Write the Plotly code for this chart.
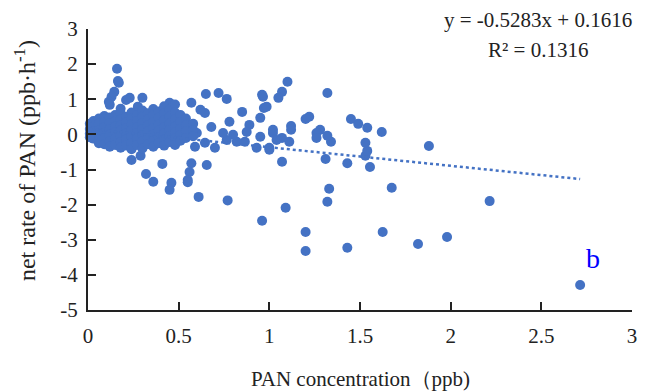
import plotly.graph_objects as go

# Sparse points (PAN concentration, net rate)
sparse_x = [2.714, 2.215, 1.98, 1.82, 1.625, 1.675, 1.88, 1.62, 1.555, 1.53, 1.54, 1.53, 1.54, 1.49, 1.45,
            1.43, 1.43, 1.33, 1.32, 1.31, 1.34, 1.32, 1.28, 1.26, 1.26, 1.32, 1.22, 1.20, 1.20, 1.20,
            1.12, 1.12, 1.11, 1.07, 1.07, 1.09, 1.10, 1.07, 1.05, 1.02, 1.02, 1.04, 1.00, 1.00, 0.97,
            0.985, 0.965, 0.96, 0.95, 0.95, 0.93, 0.96, 0.89, 0.875, 0.865, 0.85, 0.82, 0.80, 0.78, 0.765,
            0.765, 0.77, 0.745, 0.72, 0.70, 0.68, 0.65, 0.645, 0.62, 0.645, 0.655, 0.61, 0.60, 0.59, 0.57,
            0.57, 0.56, 0.55, 0.55, 0.545, 0.46, 0.45, 0.36, 0.41, 0.32, 0.24, 0.29, 0.45, 0.16, 0.165,
            0.17, 0.145, 0.13, 0.115, 0.12, 0.23, 0.21, 0.30, 0.18, 0.275]
sparse_y = [-4.29, -1.90, -2.92, -3.12, -2.78, -1.52, -0.33, 0.07, -0.93, -0.61, -0.47, -0.24, 0.19, 0.30, 0.44,
            -0.82, -3.23, -1.55, -1.92, -0.70, -0.21, -0.04, 0.13, 0.04, -0.10, 1.18, 0.50, 0.44, -2.78, -3.32,
            0.24, 0.13, -0.21, -0.10, -0.78, -2.09, 1.50, 1.21, 1.04, 0.04, 0.13, -0.16, -0.38, -0.44, 0.75,
            0.79, 1.07, 1.13, 0.47, -0.07, -0.38, -2.46, 0.27, 0.07, -0.21, 0.64, -0.21, -0.01, 0.36, 1.01,
            -0.16, -1.88, 0.04, 1.18, -0.38, 0.21, 1.15, 0.61, 0.70, -0.24, -0.87, -1.78, 0.04, -0.35, 0.90,
            -0.82, -1.07, -1.30, -1.36, 0.07, -1.38, -1.58, -1.35, -0.84, -1.13, -0.73, -0.61, 0.90, 1.87, 1.52,
            1.47, 1.21, 1.07, 0.93, 0.84, 1.04, 0.98, 1.04, 0.73, 0.79]

# Dense cluster at low concentration
cluster_x = [0.01, 0.01, 0.01, 0.01,
             0.03, 0.03, 0.03, 0.03, 0.03,
             0.06, 0.06, 0.06, 0.06, 0.06, 0.06,
             0.09, 0.09, 0.09, 0.09, 0.09, 0.09,
             0.12, 0.12, 0.12, 0.12, 0.12, 0.12,
             0.15, 0.15, 0.15, 0.15, 0.15, 0.15,
             0.18, 0.18, 0.18, 0.18, 0.18, 0.18, 0.18,
             0.21, 0.21, 0.21, 0.21, 0.21, 0.21,
             0.24, 0.24, 0.24, 0.24, 0.24, 0.24, 0.24,
             0.27, 0.27, 0.27, 0.27, 0.27, 0.27,
             0.30, 0.30, 0.30, 0.30, 0.30, 0.30, 0.30,
             0.33, 0.33, 0.33, 0.33, 0.33, 0.33,
             0.36, 0.36, 0.36, 0.36, 0.36, 0.36, 0.36,
             0.39, 0.39, 0.39, 0.39, 0.39, 0.39,
             0.42, 0.42, 0.42, 0.42, 0.42, 0.42, 0.42,
             0.45, 0.45, 0.45, 0.45, 0.45, 0.45,
             0.48, 0.48, 0.48, 0.48, 0.48, 0.48, 0.48,
             0.51, 0.51, 0.51, 0.51, 0.51,
             0.54, 0.54, 0.54, 0.54,
             0.58, 0.58, 0.58]
cluster_y = [0.30, 0.15, 0.02, -0.08,
             0.38, 0.22, 0.08, -0.05, -0.12,
             0.45, 0.30, 0.12, 0.00, -0.15, -0.25,
             0.52, 0.35, 0.20, 0.05, -0.10, -0.28,
             0.48, 0.32, 0.15, -0.02, -0.20, -0.35,
             0.55, 0.38, 0.22, 0.06, -0.12, -0.30,
             0.60, 0.42, 0.25, 0.10, -0.05, -0.22, -0.38,
             0.50, 0.33, 0.18, 0.02, -0.15, -0.32,
             0.62, 0.45, 0.28, 0.12, -0.05, -0.25, -0.42,
             0.55, 0.38, 0.20, 0.04, -0.12, -0.30,
             0.68, 0.50, 0.32, 0.15, -0.02, -0.20, -0.40,
             0.60, 0.42, 0.25, 0.08, -0.10, -0.28,
             0.72, 0.55, 0.35, 0.18, 0.00, -0.18, -0.35,
             0.65, 0.48, 0.28, 0.10, -0.08, -0.25,
             0.80, 0.60, 0.40, 0.20, 0.03, -0.15, -0.32,
             0.70, 0.50, 0.30, 0.12, -0.05, -0.22,
             0.85, 0.62, 0.42, 0.22, 0.05, -0.12, -0.30,
             0.55, 0.35, 0.15, -0.02, -0.18,
             0.45, 0.25, 0.08, -0.10,
             0.30, 0.12, -0.05]

# Linear fit reported on the chart
slope = -0.5283
intercept = 0.1616
r_squared = 0.1316

x_ticks = [0, 0.5, 1, 1.5, 2, 2.5, 3]
x_ticktext = ["0", "0.5", "1", "1.5", "2", "2.5", "3"]
y_ticks = [-5, -4, -3, -2, -1, 0, 1, 2, 3]
y_ticktext = ["-5", "-4", "-3", "-2", "-1", "0", "1", "2", "3"]

x_title = "PAN concentration（ppb)"
y_title = "net rate of PAN (ppb·h<sup>-1</sup>)"

x_all = sparse_x + cluster_x
y_all = sparse_y + cluster_y

COLOR = "#4472C4"
FONT = "Liberation Serif"
TXT = "#222222"

fig = go.Figure()
fig.add_trace(go.Scatter(x=x_all, y=y_all, mode="markers",
                         marker=dict(color=COLOR, size=10, line=dict(width=0)),
                         cliponaxis=False, showlegend=False))

tx = [min(x_all), max(x_all)]
ty = [slope * v + intercept for v in tx]
fig.add_trace(go.Scatter(x=tx, y=ty, mode="lines",
                         line=dict(color=COLOR, width=2.5, dash="dot"),
                         showlegend=False))

fig.update_layout(
    width=645, height=392, margin=dict(l=88, r=13, t=29, b=82, autoexpand=False),
    plot_bgcolor="white", paper_bgcolor="white",
    font=dict(family=FONT, size=21, color=TXT),
    xaxis=dict(range=[0, 3], tickmode="array", tickvals=x_ticks, ticktext=x_ticktext,
               showgrid=False, zeroline=False, showline=True, linecolor=TXT, linewidth=2,
               ticks="inside", ticklen=8, tickwidth=2, tickcolor=TXT, automargin=False,
               tickfont=dict(family=FONT, size=21, color=TXT), ticklabelstandoff=6),
    yaxis=dict(range=[-5, 3], tickmode="array", tickvals=y_ticks, ticktext=y_ticktext,
               showgrid=False, zeroline=False, showline=True, linecolor=TXT, linewidth=2,
               ticks="inside", ticklen=8, tickwidth=2, tickcolor=TXT, automargin=False,
               tickfont=dict(family=FONT, size=21, color=TXT), ticklabelstandoff=4),
)

# Axis titles
fig.add_annotation(xref="paper", yref="paper", x=0.5, y=-0.2456, xanchor="center", yanchor="middle",
                   text=x_title, showarrow=False, font=dict(family=FONT, size=21, color=TXT))
fig.add_annotation(xref="paper", yref="paper", x=-0.1158, y=0.53, xanchor="center", yanchor="middle",
                   text=y_title, textangle=-90, showarrow=False,
                   font=dict(family=FONT, size=24, color=TXT))

# Regression equation
fig.add_annotation(xref="paper", yref="paper", x=0.827, y=1.032, xanchor="center", yanchor="middle",
                   text=f"y = {slope}x + {intercept}",
                   showarrow=False, font=dict(family=FONT, size=21, color=TXT))
fig.add_annotation(xref="paper", yref="paper", x=0.827, y=0.925, xanchor="center", yanchor="middle",
                   text=f"R² = {r_squared}",
                   showarrow=False, font=dict(family=FONT, size=21, color=TXT))
fig.add_annotation(x=2.785, y=-3.52, text="b", showarrow=False, xanchor="center", yanchor="middle",
                   font=dict(family=FONT, size=28, color="#0000FF"))

fig.write_html("out.html")
